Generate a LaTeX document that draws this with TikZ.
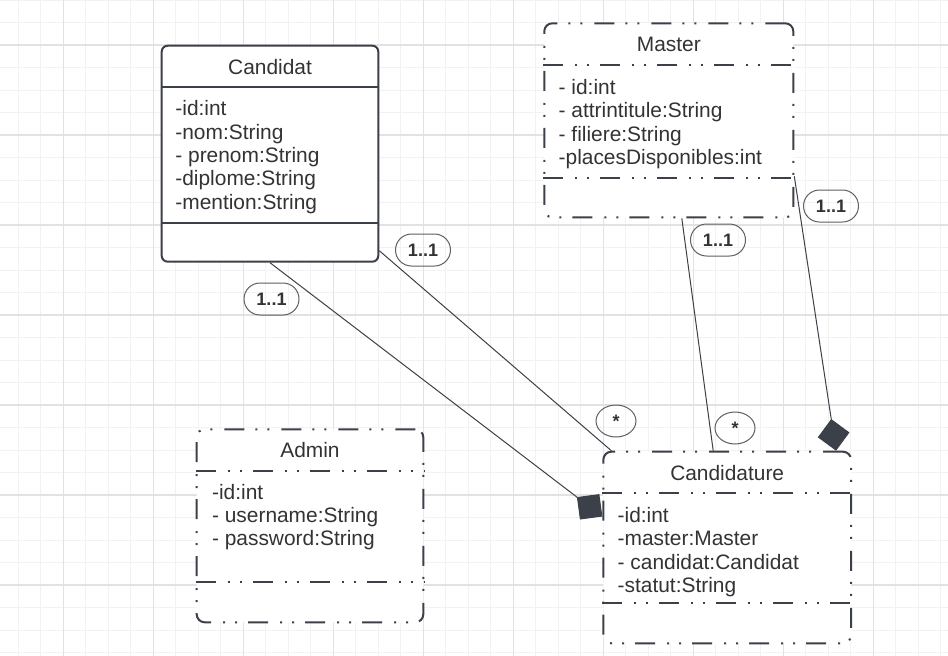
\documentclass[tikz,border=0pt]{standalone}
\usepackage{fontspec}
\setmainfont{Liberation Sans}
\usetikzlibrary{arrows.meta,shapes.geometric,calc}
\definecolor{umlgray}{RGB}{60,64,72}
\definecolor{txtgray}{RGB}{51,51,51}
\definecolor{pillgray}{RGB}{95,95,95}
\definecolor{gridminor}{RGB}{242,242,242}
\definecolor{gridmajor}{RGB}{226,226,226}

\begin{document}
\begin{tikzpicture}[x=0.5pt, y=-0.5pt, font=\fontsize{10.45}{11.65}\selectfont, text=txtgray,
    box/.style = {draw=umlgray, fill=white, line width=1pt, inner sep=0pt},
    solidbox/.style = {box, rounded corners=3pt},
    dashdot/.style = {dash pattern=on 10pt off 6pt on 1pt off 5pt on 1pt off 5.5pt},
    dashbox/.style = {box, dashdot, rounded corners=4pt},
    sep/.style = {draw=umlgray, line width=1pt},
    attr/.style = {anchor=west, align=left, inner sep=0pt},
    mult/.style = {draw=pillgray, line width=0.5pt, rounded corners=8pt, minimum width=27.5pt, minimum height=16pt, inner sep=0pt, font=\fontsize{9}{10}\selectfont\bfseries},
    many/.style = {draw=pillgray, line width=0.5pt, ellipse, minimum width=20pt, minimum height=16pt, inner sep=0pt, font=\fontsize{9}{10}\selectfont\bfseries},
    link/.style = {draw=umlgray, line width=0.5pt},
    comp/.style = {link, -{Diamond[length=16pt, width=16pt]}}]
    % background and grid
    \fill[white] (0,0) rectangle (948,655);
    \useasboundingbox (0,0) rectangle (948,655);
    \begin{scope}
        \clip (0,0) rectangle (948,655);
        \draw[gridminor, line width=0.5pt, xshift=-2.1pt] (-50,-50) grid[step=11.25pt] (1000,700);
        \draw[gridmajor, line width=0.75pt, xshift=-13.35pt, yshift=-22.5pt] (-100,-100) grid[step=45pt] (1100,800);
    \end{scope}

    % classes
    \node[solidbox, minimum width=108.3pt, minimum height=108pt] (candidat) at (270,153.7) {};
    \draw[sep] ($(candidat.north west)+(0,42)$) -- ($(candidat.north east)+(0,42)$);
    \draw[sep] ($(candidat.south west)+(0,-40)$) -- ($(candidat.south east)+(0,-40)$);
    \node (candidat-t) at (270,66.7) {Candidat};
    \node[attr] (candidat-a) at (175,157) {-id:int\\-nom:String\\- prenom:String\\-diplome:String\\-mention:String};

    \node[dashbox, minimum width=124.5pt, minimum height=97pt] (master) at (668.8,120.3) {};
    \draw[sep, dashdot] ($(master.north west)+(0,42.4)$) -- ($(master.north east)+(0,42.4)$);
    \draw[sep, dashdot] ($(master.south west)+(0,-40)$) -- ($(master.south east)+(0,-40)$);
    \node (master-t) at (668.8,44.5) {Master};
    \node[attr] (master-a) at (558.3,124) {- id:int\\- attrintitule:String\\- filiere:String\\-placesDisponibles:int};

    \node[dashbox, minimum width=113.3pt, minimum height=96.5pt] (admin) at (310,525.8) {};
    \draw[sep, dashdot] ($(admin.north west)+(0,42.4)$) -- ($(admin.north east)+(0,42.4)$);
    \draw[sep, dashdot] ($(admin.south west)+(0,-41.3)$) -- ($(admin.south east)+(0,-41.3)$);
    \node (admin-t) at (310,450.5) {Admin};
    \node[attr] (admin-a) at (211.7,517) {-id:int\\- username:String\\- password:String};

    \node[dashbox, minimum width=123.85pt, minimum height=95.8pt] (candidature) at (727.2,547.5) {};
    \draw[sep, dashdot] ($(candidature.north west)+(0,42.6)$) -- ($(candidature.north east)+(0,42.6)$);
    \draw[sep, dashdot] ($(candidature.south west)+(0,-41.6)$) -- ($(candidature.south east)+(0,-41.6)$);
    \node (candidature-t) at (727.2,473) {Candidature};
    \node[attr] (candidature-a) at (617.3,552) {-id:int\\-master:Master\\- candidat:Candidat\\-statut:String};

    % associations
    \draw[comp] (candidat.south) -- ($(candidature.west)+(0,-31)$);
    \draw[link] ($(candidat.south east)+(0,-12)$) -- ($(candidature.north west)+(9,0)$);
    \draw[link] ($(master.south)+(13,0)$) -- ($(candidature.north)+(-14,0)$);
    \draw[comp] ($(master.south east)+(0,-42)$) -- ($(candidature.north east)+(-16,0)$);

    % multiplicities
    \node[mult] (m0) at (423,250) {1..1};
    \node[mult] (m1) at (271.5,299) {1..1};
    \node[mult] (m2) at (718,240) {1..1};
    \node[mult] (m3) at (831,206) {1..1};
    \node[many] (m4) at (616,421) {\raisebox{-1.5pt}{*}};
    \node[many] (m5) at (735,428) {\raisebox{-1.5pt}{*}};
\end{tikzpicture}
\end{document}
